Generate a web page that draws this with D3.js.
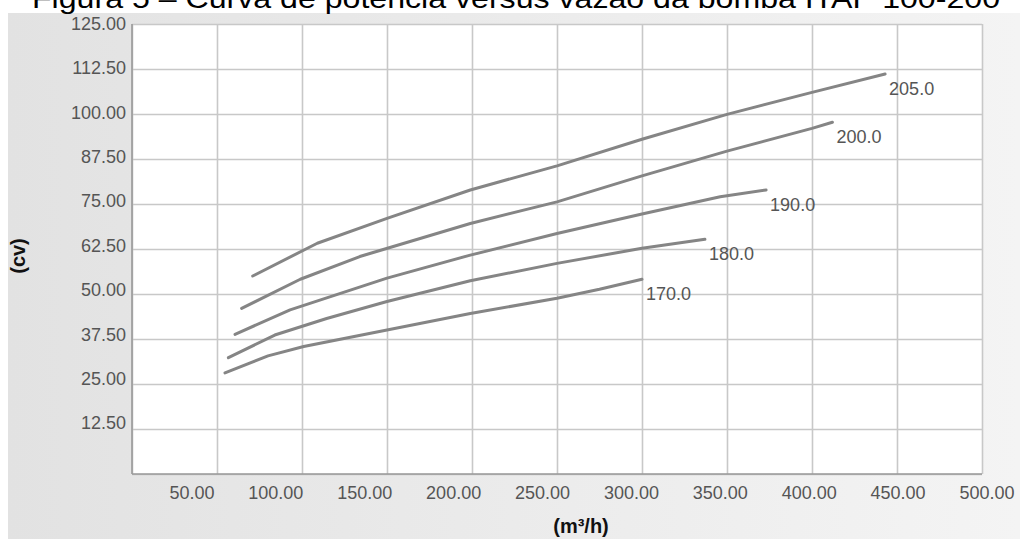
<!DOCTYPE html>
<html>
<head>
<meta charset="utf-8">
<script src="https://cdn.jsdelivr.net/npm/d3@7"></script>
<style>
  html, body { margin: 0; padding: 0; background: #fff; }
  svg { display: block; font-family: "Liberation Sans", Arial, sans-serif; }
</style>
</head>
<body>
<svg id="chart" width="1020" height="539"></svg>
<script>
// tick values
const xTicks = [0, 50, 100, 150, 200, 250, 300, 350, 400, 450, 500];
const yTicks = [0, 12.5, 25, 37.5, 50, 62.5, 75, 87.5, 100, 112.5, 125];

// curves (rotor diameter labels)
const rotores = ['170.0', '180.0', '190.0', '200.0', '205.0'];

// vazão (m3/h) / potência (cv)
const vazao170 = [54.7, 80, 101, 150, 199, 250, 275, 300];
const pot170   = [28.1, 32.8, 35.4, 40.0, 44.6, 48.8, 51.3, 54.1];
const vazao180 = [56.7, 84, 114.5, 150, 199, 250, 300, 337];
const pot180   = [32.3, 38.6, 43.2, 47.9, 53.7, 58.5, 62.7, 65.2];
const vazao190 = [60.6, 93, 150, 199, 250, 300, 346, 373];
const pot190   = [38.8, 45.6, 54.4, 60.8, 66.8, 72.2, 77.0, 78.9];
const vazao200 = [64.5, 99, 134, 199, 250, 300, 350, 400, 412];
const pot200   = [46.0, 54.1, 60.4, 69.6, 75.6, 82.8, 89.7, 96.0, 97.7];
const vazao205 = [71, 109, 150, 199, 250, 300, 350, 400, 443];
const pot205   = [55.0, 64.1, 71.0, 78.9, 85.6, 93.0, 99.9, 106.0, 111.1];

const curvas = [
  { nome: rotores[0], x: vazao170, y: pot170 },
  { nome: rotores[1], x: vazao180, y: pot180 },
  { nome: rotores[2], x: vazao190, y: pot190 },
  { nome: rotores[3], x: vazao200, y: pot200 },
  { nome: rotores[4], x: vazao205, y: pot205 }
];

const svg = d3.select('#chart');

// plot area
const plotLeft = 132, plotRight = 982, plotTop = 24, plotBottom = 474;

// background panel with gradient
const defs = svg.append('defs');
const grad = defs.append('linearGradient')
    .attr('id', 'bg')
    .attr('x1', '0%').attr('x2', '100%')
    .attr('y1', '0%').attr('y2', '0%');
grad.append('stop').attr('offset', '0%').attr('stop-color', '#e2e2e2');
grad.append('stop').attr('offset', '100%').attr('stop-color', '#f4f4f4');

svg.append('rect')
    .attr('x', 8).attr('y', 13)
    .attr('width', 1012).attr('height', 526)
    .attr('fill', 'url(#bg)');

// title (partially cut at the top, as in the figure)
svg.append('text')
    .attr('x', 32)
    .attr('y', 8)
    .attr('font-size', 27)
    .attr('fill', '#000')
    .attr('textLength', 968)
    .attr('lengthAdjust', 'spacingAndGlyphs')
    .text('Figura 5 – Curva de potência versus vazão da bomba ITAP 100-200');

svg.append('rect')
    .attr('x', plotLeft).attr('y', plotTop)
    .attr('width', plotRight - plotLeft).attr('height', plotBottom - plotTop)
    .attr('fill', '#fff');

// scales
const xScale = d3.scaleLinear().domain([0, 500]).range([plotLeft, plotRight]);
const yScale = d3.scaleLinear().domain([0, 125]).range([plotBottom, plotTop]);

// tick labels in the picture drift a little from the grid
const xLabelScale = d3.scaleLinear().domain([50, 500]).range([214, 1014]);
const yLabelScale = d3.scaleLinear().domain([0, 125]).range([467, 23]);

// grid
svg.append('g')
    .attr('transform', `translate(0, ${plotBottom})`)
    .call(d3.axisBottom(xScale).tickValues(xTicks).tickSize(-(plotBottom - plotTop)).tickFormat(''))
    .call(g => g.select('.domain').remove())
    .selectAll('line')
    .attr('stroke', '#c8c8c8')
    .attr('stroke-width', 1.6);

svg.append('g')
    .attr('transform', `translate(${plotLeft}, 0)`)
    .call(d3.axisLeft(yScale).tickValues(yTicks).tickSize(-(plotRight - plotLeft)).tickFormat(''))
    .call(g => g.select('.domain').remove())
    .selectAll('line')
    .attr('stroke', '#c8c8c8')
    .attr('stroke-width', 1.6);

// axis lines
svg.append('line')
    .attr('x1', plotLeft).attr('x2', plotLeft)
    .attr('y1', plotTop).attr('y2', plotBottom)
    .attr('stroke', '#9a9a9a').attr('stroke-width', 1.6);
svg.append('line')
    .attr('x1', plotLeft).attr('x2', plotRight)
    .attr('y1', plotBottom).attr('y2', plotBottom)
    .attr('stroke', '#9a9a9a').attr('stroke-width', 1.6);

// x tick labels
const xLab = svg.append('g')
    .attr('transform', `translate(0, ${plotBottom + 25})`)
    .call(d3.axisBottom(xLabelScale).tickValues(xTicks.slice(1)).tickSize(0).tickFormat(d3.format('.2f')));
xLab.select('.domain').remove();
xLab.selectAll('text')
    .attr('y', 0)
    .attr('dy', 0)
    .attr('text-anchor', 'end')
    .attr('font-size', 18)
    .attr('font-family', '"Liberation Sans", Arial, sans-serif')
    .attr('fill', '#555');

// y tick labels
const yLab = svg.append('g')
    .attr('transform', 'translate(126, 0)')
    .call(d3.axisLeft(yLabelScale).tickValues(yTicks.slice(1)).tickSize(0).tickFormat(d3.format('.2f')));
yLab.select('.domain').remove();
yLab.selectAll('text')
    .attr('x', 0)
    .attr('dy', '0.35em')
    .attr('text-anchor', 'end')
    .attr('font-size', 18)
    .attr('font-family', '"Liberation Sans", Arial, sans-serif')
    .attr('fill', '#555');

// axis titles
svg.append('text')
    .attr('transform', 'translate(25, 256) rotate(-90)')
    .attr('text-anchor', 'middle')
    .attr('font-size', 20)
    .attr('font-weight', 'bold')
    .attr('fill', '#111')
    .text('(cv)');

svg.append('text')
    .attr('x', 581)
    .attr('y', 533)
    .attr('text-anchor', 'middle')
    .attr('font-size', 20)
    .attr('font-weight', 'bold')
    .attr('fill', '#111')
    .text('(m³/h)');

// curves
const line = d3.line()
    .x(d => xScale(d[0]))
    .y(d => yScale(d[1]));

curvas.forEach(c => {
  const pts = c.x.map((v, i) => [v, c.y[i]]);
  svg.append('path')
      .datum(pts)
      .attr('d', line)
      .attr('fill', 'none')
      .attr('stroke', '#858585')
      .attr('stroke-width', 3)
      .attr('stroke-linecap', 'round')
      .attr('stroke-linejoin', 'round');

  const last = pts[pts.length - 1];
  svg.append('text')
      .attr('x', xScale(last[0]) + 4)
      .attr('y', yScale(last[1]) + 21)
      .attr('font-size', 18)
      .attr('fill', '#555')
      .text(c.nome);
});
</script>
</body>
</html>
